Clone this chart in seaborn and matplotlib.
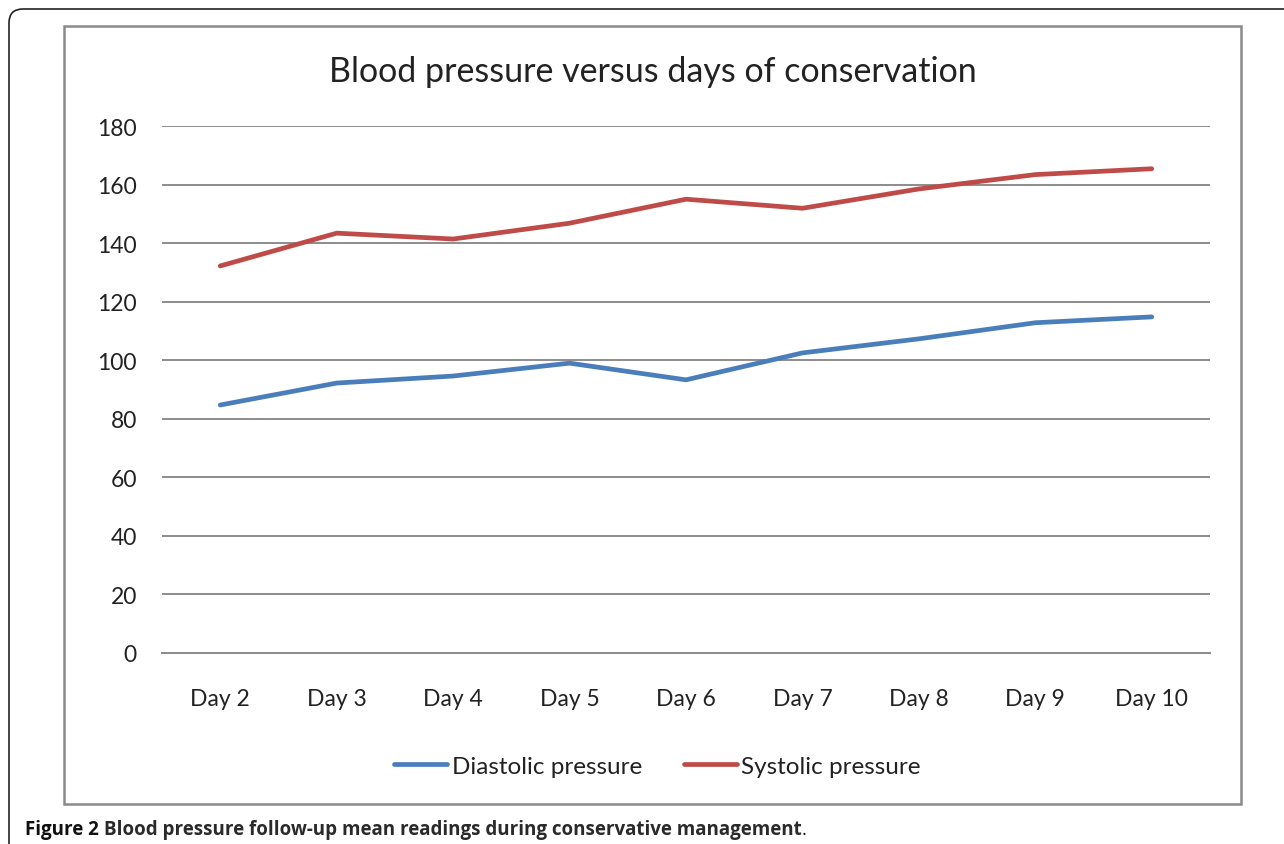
import numpy as np
import matplotlib
matplotlib.use('Agg')
import matplotlib.pyplot as plt
from matplotlib.patches import FancyBboxPatch, Rectangle
from matplotlib.transforms import IdentityTransform
import pandas as pd
import seaborn as sns

days = ["Day 2", "Day 3", "Day 4", "Day 5", "Day 6", "Day 7", "Day 8", "Day 9", "Day 10"]
diastolic = [84.7, 92.2, 94.6, 99.0, 93.3, 102.5, 107.3, 112.8, 114.8]
systolic = [132.2, 143.4, 141.4, 146.8, 155.0, 151.9, 158.5, 163.4, 165.4]
yticks = [0, 20, 40, 60, 80, 100, 120, 140, 160, 180]

df = pd.DataFrame({
    "day": days * 2,
    "value": diastolic + systolic,
    "series": ["Diastolic pressure"] * len(days) + ["Systolic pressure"] * len(days),
})

sns.set_style("white")
plt.rcParams['font.family'] = ['Lato', 'DejaVu Sans']

fig = plt.figure(figsize=(12.84, 8.45), dpi=100)
ax = fig.add_axes([162 / 1284, 1 - 654 / 845, 1048 / 1284, 527 / 845])

sns.lineplot(data=df, x="day", y="value", hue="series", sort=False,
             palette=["#4A7EBB", "#BE4B48"], linewidth=3.4, ax=ax,
             solid_capstyle='round')

ax.set_xlim(-0.5, len(days) - 0.5)
ax.set_ylim(0, 180)
ax.set_yticks(yticks)
ax.yaxis.grid(True, color="#8c8c8c", linewidth=1.4)
ax.set_axisbelow(True)
for s in ["top", "right", "left"]:
    ax.spines[s].set_visible(False)
ax.spines["bottom"].set_color("#8c8c8c")
ax.spines["bottom"].set_linewidth(1.4)
ax.tick_params(axis='both', length=0, labelsize=16.5, colors="#222222")
ax.tick_params(axis='y', pad=18)
ax.tick_params(axis='x', pad=25)
ax.set_xlabel("")
ax.set_ylabel("")

leg = ax.legend(loc="center", bbox_to_anchor=(0.473, -0.215), ncol=2, frameon=False,
                fontsize=17.5, handlelength=2.15, handletextpad=0.2, columnspacing=1.75)
for t in leg.get_texts():
    t.set_color("#222222")

fig.text(653 / 1284, 1 - 72 / 845, "Blood pressure versus days of conservation",
         ha="center", va="center", fontsize=24.5, color="#222222")

# outer rounded frame and chart border
fig.patches.append(FancyBboxPatch((9, -40), 1320, 875, boxstyle="round,pad=0,rounding_size=14",
                                  transform=IdentityTransform(), fill=False,
                                  edgecolor="#222222", linewidth=1.2))
fig.patches.append(Rectangle((64, 845 - 805), 1177, 778, transform=IdentityTransform(),
                             fill=False, edgecolor="#8a8a8a", linewidth=1.8))

# caption
fig.canvas.draw()
r = fig.canvas.get_renderer()
cap_y = 1 - 830 / 845
cap_font = ["Open Sans", "DejaVu Sans"]
t1 = fig.text(25 / 1284, cap_y, "Figure 2 ", fontsize=13.5, fontweight="bold",
              family=cap_font, va="center", color="#111111")
bb = t1.get_window_extent(r)
t2 = fig.text(bb.x1 / 1284, cap_y,
              "Blood pressure follow-up mean readings during conservative management",
              fontsize=13.5, fontweight="bold", family=cap_font,
              va="center", color="#2a2a2a")
bb2 = t2.get_window_extent(r)
fig.text(bb2.x1 / 1284, cap_y, ".", fontsize=13.5, family=cap_font,
         va="center", color="#111111")

fig.savefig("out.png", dpi=100)
